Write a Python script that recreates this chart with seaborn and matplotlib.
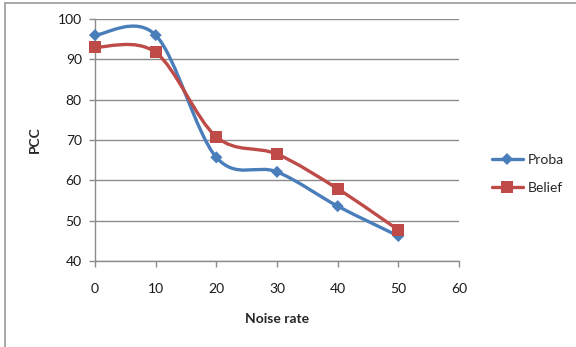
import numpy as np
import matplotlib
matplotlib.use("Agg")
import matplotlib.pyplot as plt
from matplotlib.path import Path
from matplotlib.patches import PathPatch
from matplotlib.lines import Line2D
import seaborn as sns
import pandas as pd

noise_rate = [0, 10, 20, 30, 40, 50]
proba = [96.0, 96.0, 65.7, 62.1, 53.6, 46.2]
belief = [93.0, 91.7, 70.8, 66.5, 57.9, 47.7]
series_names = ["Proba", "Belief"]

sns.set_theme(style="white")
plt.rcParams['font.family'] = ['Lato', 'DejaVu Sans']

BLUE = "#4A7EBB"
RED = "#BE4B48"
GRID = "#8C8C8C"

fig = plt.figure(figsize=(5.76, 3.47), dpi=100)
ax = fig.add_axes([95/576, 1-261/347, (459-95)/576, (261-19)/347])

df = pd.DataFrame({
    "Noise rate": noise_rate * 2,
    "PCC": proba + belief,
    "series": [series_names[0]] * len(proba) + [series_names[1]] * len(belief),
})


def smooth_path(xs, ys):
    pts = np.column_stack([xs, ys]).astype(float)
    n = len(pts)
    verts = [pts[0]]
    codes = [Path.MOVETO]
    for i in range(n - 1):
        p0 = pts[i - 1] if i > 0 else pts[i]
        p1 = pts[i]
        p2 = pts[i + 1]
        p3 = pts[i + 2] if i + 2 < n else pts[i + 1]
        c1 = p1 + (p2 - p0) / 6.0
        c2 = p2 - (p3 - p1) / 6.0
        verts += [c1, c2, p2]
        codes += [Path.CURVE4] * 3
    return Path(verts, codes)


for name, vals, col in [("Proba", proba, BLUE), ("Belief", belief, RED)]:
    ax.add_patch(PathPatch(smooth_path(noise_rate, vals), facecolor="none",
                           edgecolor=col, lw=2.4, zorder=3, capstyle="round",
                           joinstyle="round", clip_on=False))

sns.scatterplot(data=df, x="Noise rate", y="PCC", hue="series", style="series",
                markers={"Proba": "D", "Belief": "s"},
                palette={"Proba": BLUE, "Belief": RED},
                size="series", sizes={"Proba": 38, "Belief": 75},
                edgecolor="none", linewidth=0, ax=ax, zorder=4, legend=False,
                clip_on=False)

ax.set_xlim(0, 60)
ax.set_ylim(40, 100)
ax.set_xticks(range(0, 61, 10))
ax.set_yticks(range(40, 101, 10))
ax.grid(axis="y", color=GRID, lw=1.0)
ax.grid(axis="x", visible=False)
ax.set_axisbelow(True)
for s in ["top", "right"]:
    ax.spines[s].set_visible(False)
for s in ["left", "bottom"]:
    ax.spines[s].set_color(GRID)
    ax.spines[s].set_linewidth(1.0)
ax.tick_params(axis="both", which="both", direction="out", length=4.5,
               width=1.0, color=GRID, labelsize=10, labelcolor="#1a1a1a")
ax.tick_params(axis="x", pad=11, bottom=True)
ax.tick_params(axis="y", pad=5, left=True)
ax.set_xlabel("Noise rate", fontsize=10, fontweight="bold", labelpad=13)
ax.set_ylabel("PCC", fontsize=10, fontweight="bold", labelpad=12)

handles = [
    Line2D([], [], color=BLUE, lw=2.4, marker="D", markersize=6, markeredgewidth=0),
    Line2D([], [], color=RED, lw=2.4, marker="s", markersize=8, markeredgewidth=0),
]
fig.legend(handles, series_names, loc="center left",
           bbox_to_anchor=(479/576, 1-174/347), frameon=False, fontsize=10,
           handlelength=2.3, handletextpad=0.3, labelspacing=1.2)

# Chart area frame (partly visible)
fig.add_artist(Line2D([4.5/576, 4.5/576], [0, 1-2.5/347], transform=fig.transFigure,
                      color="#9a9a9a", lw=1.2))
fig.add_artist(Line2D([4.5/576, 1], [1-2.5/347, 1-2.5/347], transform=fig.transFigure,
                      color="#9a9a9a", lw=1.2))

fig.savefig("out.png", dpi=100, facecolor="white")
